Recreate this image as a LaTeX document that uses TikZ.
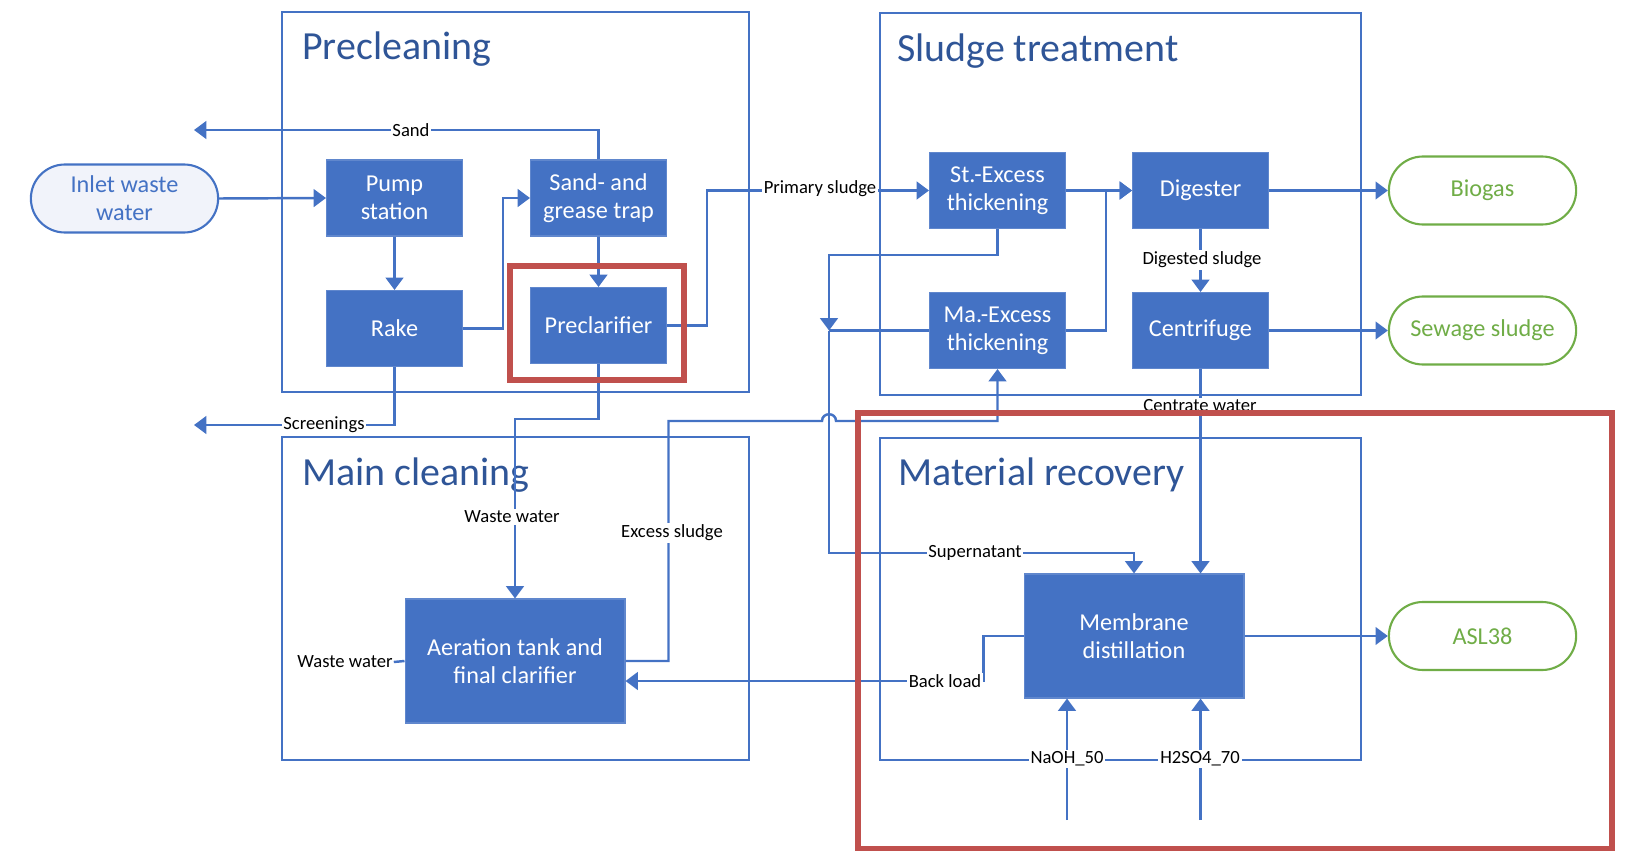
\documentclass[tikz,border=0pt]{standalone}
\usepackage{fontspec}
\setmainfont{Carlito}
\usetikzlibrary{arrows.meta,calc,shapes.misc}
\definecolor{boxblue}{HTML}{4472C4}
\definecolor{ttlblue}{HTML}{2F5597}
\definecolor{outgreen}{HTML}{70AD47}
\definecolor{hired}{HTML}{C0504D}
\definecolor{srcfill}{HTML}{F1F3FA}
\tikzset{
  proc/.style={fill=boxblue, draw=boxblue!85!white, line width=0.6pt, text=white, align=center,
    minimum width=2.72cm, minimum height=1.52cm, inner sep=1pt, font=\fontsize{13.8}{15.9}\selectfont},
  bigproc/.style={proc, minimum width=4.4cm, minimum height=2.48cm},
  term/.style={rounded rectangle, draw=outgreen, line width=1.2pt, fill=white, text=outgreen,
    minimum width=3.98cm, minimum height=1.36cm, font=\fontsize{13.8}{15.9}\selectfont},
  src/.style={term, draw=boxblue, fill=srcfill, text=boxblue, align=center},
  lab/.style={fill=white, inner sep=1pt, font=\fontsize{10.6}{12}\selectfont},
  flow/.style={draw=boxblue, line width=1.4pt, -{Triangle[length=7pt,width=10pt]}},
  pipe/.style={draw=boxblue, line width=1.4pt},
  frame/.style={draw=boxblue, line width=1.1pt},
  ttl/.style={anchor=base west, text=ttlblue, inner sep=0pt, font=\fontsize{22.7}{27}\selectfont},
  hilite/.style={draw=hired, line width=3.4pt}
}
\begin{document}
\begin{tikzpicture}[x=0.02cm, y=-0.02cm]
  \useasboundingbox (0,0) rectangle (1625,851);

  % Frames
  \draw[frame] (282,12) rectangle (749,392);
  \draw[frame] (880,13) rectangle (1361,395);
  \draw[frame] (282,437) rectangle (749,760);
  \draw[frame] (880,438) rectangle (1361,760);
  \node[ttl] at (302,60) {Precleaning};
  \node[ttl] at (897,62) {Sludge treatment};
  \node[ttl] at (302,485) {Main cleaning};
  \node[ttl] at (898,485) {Material recovery};

  % Precleaning
  \node[src] (inlet) at (124.5,198.5) {Inlet waste\\water};
  \node[proc] (pump) at (394.5,198) {Pump\\station};
  \node[proc] (sand) at (598.5,198) {Sand- and\\grease trap};
  \node[proc] (rake) at (394.5,328.5) {Rake};
  \node[proc] (precl) at (598.5,325.5) {Preclarifier};
  \coordinate (sandout) at (194,130);
  \coordinate (scrout) at (194,425);

  % Sludge treatment
  \node[proc] (stex) at (997.5,190.5) {St.-Excess\\thickening};
  \node[proc] (dig) at (1200.5,190.5) {Digester};
  \node[proc] (maex) at (997.5,330.5) {Ma.-Excess\\thickening};
  \node[proc] (centr) at (1200.5,330.5) {Centrifuge};
  \node[term] (biogas) at (1482.5,190.5) {Biogas};
  \node[term] (sewage) at (1482.5,330.5) {Sewage sludge};
  \coordinate (jn) at (829,330.5);

  % Main cleaning and material recovery
  \node[bigproc] (aer) at (515,661) {Aeration tank and\\final clarifier};
  \node[bigproc] (memb) at (1134,636) {Membrane\\distillation};
  \node[term] (asl) at (1482.5,636) {ASL38};
  \coordinate (naoh) at (1067,820);
  \coordinate (hso) at (1200.5,820);

  % Connectors
  \draw[flow] (inlet.east) -- (pump.west);
  \draw[flow] (pump.south) -- (rake.north);
  \draw[flow] (rake.east) -- ++(40,0) |- (sand.west);
  \draw[flow] (sand.south) -- (precl.north);
  \draw[flow] (sand.north) |- (sandout);
  \draw[flow] (rake.south) |- (scrout);
  \draw[flow] (precl.east) -- ++(40,0) |- (stex.west);
  \draw[flow] (precl.south) -- ++(0,55) -| (aer.north);
  \draw[flow] (stex.east) -- (dig.west);
  \draw[flow] (maex.east) -- ++(40,0) |- (dig.west);
  \draw[flow] (dig.east) -- (biogas.west);
  \draw[flow] (dig.south) -- (centr.north);
  \draw[flow] (centr.east) -- (sewage.west);
  \draw[flow] (stex.south) -- ++(0,26) -| (jn);
  \draw[pipe] (maex.west) -- (jn);
  \draw[flow] (jn) -- (829,553) -| (memb.north);
  \draw[flow] (aer.east) -- ++(43,0) |- (822,421)
    .. controls (822,412) and (836,412) .. (836,421) -| (maex.south);
  \draw[flow] (centr.south) -- (centr.south |- memb.north);
  \draw[flow] (memb.east) -- (asl.west);
  \draw[flow] (memb.west) -- ++(-40,0) |- ($(aer.east)+(0,20)$);
  \draw[flow] (naoh) -- (naoh |- memb.south);
  \draw[flow] (hso) -- (hso |- memb.south);

  % Labels
  \node[lab] at (411,130) {Sand};
  \node[lab] at (324,425) {Screenings};
  \node[lab] at (820,189) {Primary sludge};
  \node[lab] at (1202,260) {Digested sludge};
  \node[lab] at (1200,406) {Centrate water};
  \node[lab] at (512,517) {Waste water};
  \node[lab] at (672,533) {Excess sludge};
  \node[lab, inner sep=0.5pt] (wwlab) at (345,662) {Waste water};
  \draw[pipe] (wwlab.east) -- (aer.west);
  \node[lab] at (975,553) {Supernatant};
  \node[lab] at (945,681) {Back load};
  \node[lab] at (1067,759) {NaOH\_50};
  \node[lab] at (1200,759) {H2SO4\_70};

  % Highlights
  \draw[hilite] (510,266) rectangle (684,380);
  \draw[hilite] (858,413) rectangle (1612,849);
\end{tikzpicture}
\end{document}
